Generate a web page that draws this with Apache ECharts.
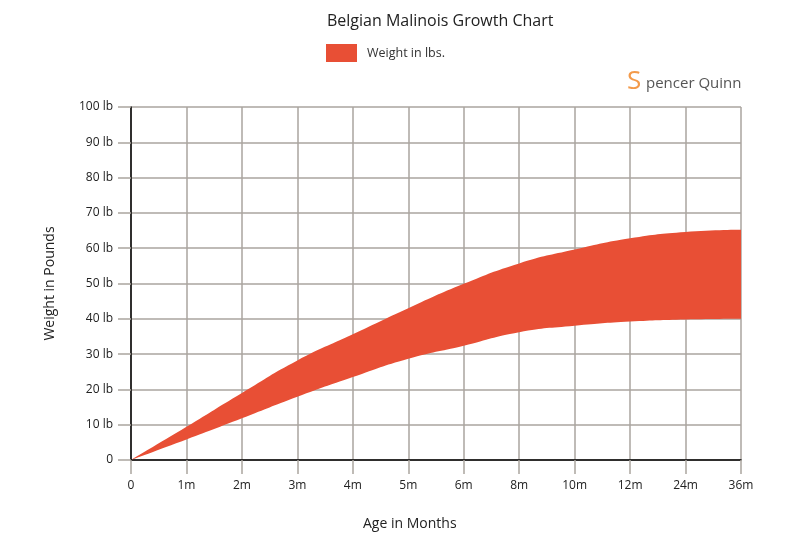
<!DOCTYPE html>
<html>
<head>
<meta charset="utf-8">
<script src="https://cdn.jsdelivr.net/npm/echarts@6/dist/echarts.min.js"></script>
<style>html,body{margin:0;padding:0;background:#fff}#c{width:800px;height:550px}</style>
</head>
<body>
<div id="c"></div>
<script>
var ages = ['0','1m','2m','3m','4m','5m','6m','8m','10m','12m','24m','36m'];
var lowerWeight = [0, 5.8, 11.8, 17.9, 23.5, 28.7, 32.4, 36.2, 38.0, 39.2, 39.8, 40];
var upperWeight = [0, 9.4, 19.0, 28.2, 35.6, 43.0, 49.9, 55.7, 59.6, 62.8, 64.6, 65.2];
var yTickLabels = ['0','10 lb','20 lb','30 lb','40 lb','50 lb','60 lb','70 lb','80 lb','90 lb','100 lb'];

var bandWidth = upperWeight.map(function(v, i){ return +(v - lowerWeight[i]).toFixed(2); });
var FONT = 'Open Sans';
var RED = '#e84f35';
var GRID = '#aaa59f';

var chart = echarts.init(document.getElementById('c'));
chart.setOption({
  animation: false,
  textStyle: {fontFamily: FONT},
  title: {
    text: 'Belgian Malinois Growth Chart',
    left: 322, top: 8,
    textStyle: {fontFamily: FONT, fontSize: 16, fontWeight: 'normal', color: '#222'}
  },
  legend: {
    data: ['Weight in lbs.'],
    left: 321, top: 39,
    itemWidth: 31, itemHeight: 18, itemGap: 10,
    icon: 'rect',
    textStyle: {fontFamily: FONT, fontSize: 12.5, color: '#333', padding: [0,0,0,5]}
  },
  graphic: [
    {type: 'text', left: 627, top: 69, style: {text: 'S', fill: '#f39a4a', font: '400 26px "Open Sans"'}},
    {type: 'text', left: 646, top: 76, style: {text: 'pencer Quinn', fill: '#555', font: '15px "Open Sans"'}},
    {type: 'text', left: 363, top: 517, style: {text: 'Age in Months', fill: '#222', font: '14px "Open Sans"'}}
  ],
  grid: {left: 131, right: 59, top: 107, bottom: 90, containLabel: false},
  xAxis: {
    type: 'category',
    data: ages,
    boundaryGap: false,
    axisLine: {lineStyle: {color: '#000', width: 1.5}},
    axisTick: {show: true, length: 14, lineStyle: {color: GRID, width: 1.5}},
    axisLabel: {color: '#222', fontSize: 12, margin: 20, fontFamily: FONT},
    splitLine: {show: true, lineStyle: {color: GRID, width: 1.5}}
  },
  yAxis: {
    type: 'value',
    min: 0, max: 100, interval: 10,
    name: 'Weight in Pounds',
    nameLocation: 'middle',
    nameGap: 74,
    nameTextStyle: {fontFamily: FONT, fontSize: 14, color: '#222'},
    axisLine: {show: true, lineStyle: {color: '#000', width: 1.5}},
    axisTick: {show: true, length: 13, lineStyle: {color: GRID, width: 1.5}},
    axisLabel: {color: '#222', fontSize: 12, margin: 18, fontFamily: FONT,
      formatter: function(v){ return yTickLabels[Math.round(v/10)]; }},
    splitLine: {show: true, lineStyle: {color: GRID, width: 1.5}}
  },
  series: [
    {
      name: 'lower', type: 'line', stack: 'band', data: lowerWeight,
      smooth: 0.5, symbol: 'none', lineStyle: {width: 0, opacity: 0},
      areaStyle: {opacity: 0}, silent: true
    },
    {
      name: 'Weight in lbs.', type: 'line', stack: 'band', data: bandWidth,
      smooth: 0.5, symbol: 'none', lineStyle: {width: 0, opacity: 0},
      itemStyle: {color: RED},
      areaStyle: {color: RED, opacity: 1}
    }
  ]
});
</script>
</body>
</html>
